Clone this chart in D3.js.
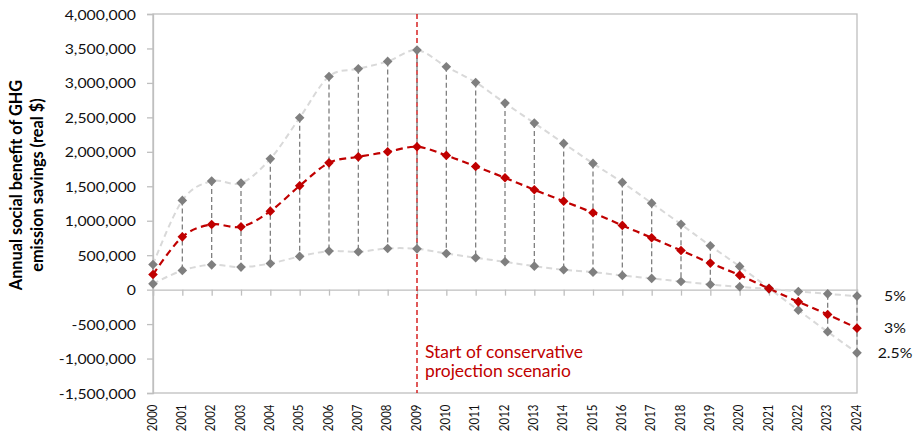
<!DOCTYPE html>
<html>
<head>
<meta charset="utf-8">
<script src="https://cdn.jsdelivr.net/npm/d3@7"></script>
<style>
  html, body { margin: 0; padding: 0; background: #fff; }
  svg { display: block; font-family: Lato, "Open Sans", sans-serif; }
</style>
</head>
<body>
<svg id="chart" width="916" height="445"></svg>
<script>
// Categories (years)
const years = ["2000","2001","2002","2003","2004","2005","2006","2007","2008","2009","2010","2011","2012",
               "2013","2014","2015","2016","2017","2018","2019","2020","2021","2022","2023","2024"];

// Annual social benefit at each discount rate (real $)
const rate25 = [365000, 1295000, 1575000, 1546000, 1898000, 2494000, 3094000, 3205000, 3312000, 3476000,
                3234000, 3007000, 2707000, 2417000, 2122000, 1832000, 1556000, 1255000, 948000, 636000,
                337000, 20000, -298000, -612000, -917000];
const rate3  = [220000, 766000, 946000, 912000, 1139000, 1507000, 1840000, 1927000, 2000000, 2073000,
                1948000, 1788000, 1623000, 1449000, 1284000, 1115000, 932000, 752000, 569000, 385000,
                210000, 15000, -177000, -360000, -559000];
const rate5  = [84000, 279000, 360000, 327000, 380000, 482000, 559000, 549000, 598000, 592000,
                525000, 462000, 404000, 341000, 288000, 254000, 206000, 163000, 118000, 75000,
                41000, 10000, -27000, -61000, -94000];
const seriesNames = ["2.5%", "3%", "5%"];

// Value axis ticks
const yTicks = [-1500000, -1000000, -500000, 0, 500000, 1000000, 1500000, 2000000, 2500000, 3000000, 3500000, 4000000];

const projectionStart = "2009";
const annotationLines = ["Start of conservative", "projection scenario"];
const titleLines = ["Annual social benefit of GHG", "emission savings (real $)"];

// ---- layout ----
const plot = { left: 153, right: 857, top: 14, bottom: 393 };
const AXIS_GREY = "#bfbfbf";
const RED = "#c00000";
const MARK_GREY = "#7f7f7f";
const LINE_GREY = "#d9d9d9";
const STRETCH = 1.13;     // horizontal widening of the tick label glyphs
const YEAR_STRETCH = 1.2;

const svg = d3.select("#chart");

const x = d3.scalePoint().domain(years).range([plot.left, plot.right]).padding(0);
const y = d3.scaleLinear().domain([-1500000, 4000000]).range([plot.bottom, plot.top]);

const fmt = v => d3.format(",")(v).replace("\u2212", "-");

// plot frame
svg.append("rect")
  .attr("x", plot.left).attr("y", plot.top)
  .attr("width", plot.right - plot.left).attr("height", plot.bottom - plot.top)
  .attr("fill", "none").attr("stroke", AXIS_GREY).attr("stroke-width", 1.3);

// value axis
const yAxis = svg.append("g")
  .attr("transform", `translate(${plot.left},0)`)
  .call(d3.axisLeft(y).tickValues(yTicks).tickSize(6).tickPadding(0).tickFormat(fmt));
yAxis.select(".domain").attr("stroke", AXIS_GREY).attr("stroke-width", 1.3);
yAxis.selectAll(".tick line").attr("stroke", AXIS_GREY).attr("stroke-width", 1.3);
yAxis.selectAll(".tick text")
  .attr("x", -17 / STRETCH)
  .attr("dy", "0.36em")
  .attr("transform", `scale(${STRETCH},1)`)
  .attr("fill", "#111")
  .style("font-size", "14px")
  .style("font-family", "Lato, 'Open Sans', sans-serif");

// category axis at zero with downward ticks
const xAxis = svg.append("g")
  .attr("transform", `translate(0,${y(0)})`)
  .call(d3.axisBottom(x).tickSize(6).tickFormat(""));
xAxis.select(".domain").attr("stroke", AXIS_GREY).attr("stroke-width", 1.3);
xAxis.selectAll(".tick line").attr("stroke", AXIS_GREY).attr("stroke-width", 1.3);

// year labels at the bottom of the plot, rotated
svg.append("g").selectAll("text")
  .data(years)
  .join("text")
  .attr("transform", d => `translate(${x(d) + 3.5},${plot.bottom + 11.5}) scale(${YEAR_STRETCH},1) rotate(-90)`)
  .attr("text-anchor", "end")
  .style("font-size", "11.5px")
  .attr("fill", "#111")
  .text(d => d);

// axis title
svg.append("g").selectAll("text")
  .data(titleLines)
  .join("text")
  .attr("transform", (d, i) => `translate(${22 + i * 21},185) scale(1.05,1) rotate(-90)`)
  .attr("text-anchor", "middle")
  .style("font-size", "16.3px")
  .style("font-weight", "bold")
  .attr("fill", "#000")
  .text(d => d);

// series lines
const series = [
  { name: seriesNames[0], values: rate25, color: LINE_GREY, mark: MARK_GREY, dash: "6,4", width: 2 },
  { name: seriesNames[2], values: rate5,  color: LINE_GREY, mark: MARK_GREY, dash: "6,4", width: 2 },
  { name: seriesNames[1], values: rate3,  color: RED,       mark: RED,       dash: "7,4.5", width: 2.2 }
];

const line = d3.line()
  .x((d, i) => x(years[i]))
  .y(d => y(d))
  .curve(d3.curveCardinal.tension(0));

svg.append("g").selectAll("path")
  .data(series.slice(0, 2))
  .join("path")
  .attr("d", s => line(s.values))
  .attr("fill", "none")
  .attr("stroke", s => s.color)
  .attr("stroke-width", s => s.width)
  .attr("stroke-dasharray", s => s.dash);

// projection start marker line
svg.append("line")
  .attr("x1", x(projectionStart)).attr("x2", x(projectionStart))
  .attr("y1", plot.top).attr("y2", plot.bottom)
  .attr("stroke", "#d00000").attr("stroke-width", 1.3)
  .attr("stroke-dasharray", "5,3");

// high-low drop lines
svg.append("g").selectAll("line")
  .data(years)
  .join("line")
  .attr("x1", d => x(d)).attr("x2", d => x(d))
  .attr("y1", (d, i) => y(rate25[i]))
  .attr("y2", (d, i) => y(rate5[i]))
  .attr("stroke", MARK_GREY).attr("stroke-width", 1.3)
  .attr("stroke-dasharray", "5,3");

// central series line
svg.append("path")
  .attr("d", line(rate3))
  .attr("fill", "none")
  .attr("stroke", RED)
  .attr("stroke-width", 2.2)
  .attr("stroke-dasharray", "7,4.5");

// diamond markers
const h = 4.8;
const diamond = `M0,${-h}L${h},0L0,${h}L${-h},0Z`;
series.forEach(s => {
  svg.append("g").selectAll("path")
    .data(s.values)
    .join("path")
    .attr("transform", (d, i) => `translate(${x(years[i])},${y(d)})`)
    .attr("d", diamond)
    .attr("fill", s.mark);
});

// series labels at the right end
svg.append("g").selectAll("text")
  .data(series)
  .join("text")
  .attr("transform", s => `translate(${plot.right + 38},${y(s.values[s.values.length - 1])}) scale(${STRETCH},1)`)
  .attr("text-anchor", "middle")
  .attr("dy", "0.36em")
  .style("font-size", "14px")
  .attr("fill", "#111")
  .text(s => s.name);

// annotation
svg.append("g").selectAll("text")
  .data(annotationLines)
  .join("text")
  .attr("transform", (d, i) => `translate(${x(projectionStart) + 8},${357.5 + i * 19.5}) scale(1.07,1)`)
  .style("font-size", "16.3px")
  .attr("fill", RED)
  .text(d => d);
</script>
</body>
</html>
